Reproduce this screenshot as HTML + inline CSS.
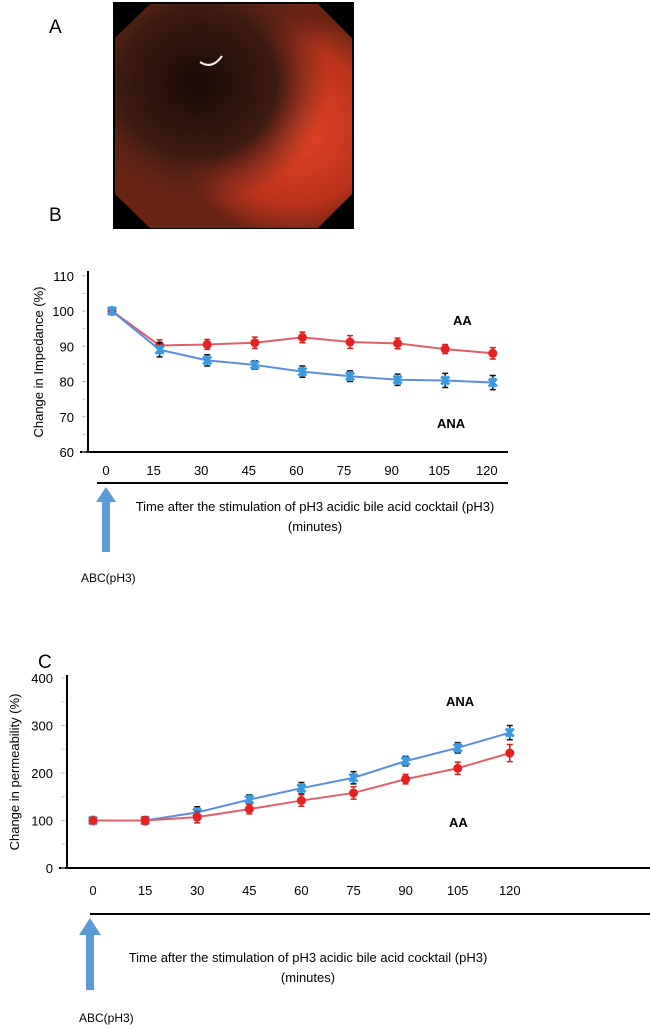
<!DOCTYPE html>
<html><head><meta charset="utf-8"><style>
body{margin:0;background:#fff;}
svg{display:block;font-family:"Liberation Sans",sans-serif;}
</style></head><body>
<svg id="fig" width="650" height="1029" viewBox="0 0 650 1029">
<defs>
<radialGradient id="g1" cx="0.75" cy="0.55" r="0.5"><stop offset="0" stop-color="#e8452a"/><stop offset="0.7" stop-color="#b8321c"/><stop offset="1" stop-color="#6a2414"/></radialGradient>
<radialGradient id="g2" cx="0.35" cy="0.35" r="0.55"><stop offset="0" stop-color="#1a0a06"/><stop offset="0.6" stop-color="#3c1a10"/><stop offset="1" stop-color="#5a2a1a" stop-opacity="0"/></radialGradient>
</defs>
<text x="49" y="33" font-size="19">A</text>
<g>
<rect x="113" y="2" width="241" height="227" fill="#000"/>
<polygon points="150,4 318,4 352,38 352,194 318,228 150,228 115,194 115,38" fill="url(#g1)"/>
<polygon points="150,4 318,4 352,38 352,194 318,228 150,228 115,194 115,38" fill="url(#g2)"/>
<path d="M200,62 Q212,70 222,56" stroke="#eee" stroke-width="2" fill="none"/>
</g>
<text x="49" y="221" font-size="19">B</text>
<text x="38" y="668" font-size="19">C</text>
<g id="chartB"></g>
<g id="chartC"></g>
</svg>
<script>
const categories = [0,15,30,45,60,75,90,105,120];
const impAA = [100,90.2,90.5,91,92.5,91.2,90.8,89.2,88];
const impAAerr = [0.5,1.6,1.4,1.6,1.5,1.8,1.5,1.3,1.6];
const impANA = [100,89,86,84.7,82.8,81.5,80.5,80.3,79.7];
const impANAerr = [0.5,2,1.6,1.2,1.6,1.5,1.6,2,2];
const impTicks = [60,70,80,90,100,110];
const permAA = [100,100,107,124,142,158,187,210,242];
const permAAerr = [4,8,12,10,12,13,10,13,18];
const permANA = [100,100,117,144,168,190,225,253,285];
const permANAerr = [4,8,12,10,12,13,10,11,15];
const permTicks = [0,100,200,300,400];
const NS='http://www.w3.org/2000/svg';
function mk(p,t,a,txt){const e=document.createElementNS(NS,t);for(const k in a)e.setAttribute(k,a[k]);if(txt!==undefined)e.textContent=txt;p.appendChild(e);return e;}
function draw(g,cfg){
  const xs=i=>cfg.x0+i*cfg.dx;
  const ys=v=>cfg.yBase-(v-cfg.yMin)*cfg.ppu;
  const yAx=mk(g,'line',{x1:cfg.ax,y1:cfg.axTop,x2:cfg.ax,y2:cfg.yBase,stroke:'#000','stroke-width':2});
  
  const xAx=mk(g,'line',{x1:cfg.ax-8,y1:cfg.yBase,x2:cfg.xEnd,y2:cfg.yBase,stroke:'#000','stroke-width':2});
  
  cfg.ticks.forEach((t,i)=>{
    const y=ys(t);
    const tl=mk(g,'text',{x:cfg.ax-14,y:y+5,'font-size':13,'text-anchor':'end'},t);
    
    mk(g,'line',{x1:cfg.ax-6,y1:y,x2:cfg.ax-2,y2:y,stroke:'#bbb'});
    if(i<cfg.ticks.length-1)mk(g,'line',{x1:cfg.ax-6,y1:(y+ys(cfg.ticks[i+1]))/2,x2:cfg.ax-2,y2:(y+ys(cfg.ticks[i+1]))/2,stroke:'#ccc'});
  });
  categories.forEach((c,i)=>{
    const tl=mk(g,'text',{x:xs(i)+cfg.lblOff,y:cfg.lblY,'font-size':13,'text-anchor':'middle'},c);
    
  });
  const series=[[cfg.aa,cfg.aaErr,'#e0606a','#e82020','circle','series-aa'],[cfg.ana,cfg.anaErr,'#5b8ee0','#3a9ae0','star','series-ana']];
  if(cfg.anaTop) series.reverse();
  series.forEach(([vals,err,lc,mc,shape,name])=>{
    const pl=mk(g,'polyline',{points:vals.map((v,i)=>xs(i)+','+ys(v)).join(' '),fill:'none',stroke:lc,'stroke-width':2});
    
    vals.forEach((v,i)=>{
      const x=xs(i),y=ys(v),e=err[i]*cfg.ppu;
      const ec=shape==='circle'?'#d02020':'#111';
      mk(g,'path',{d:`M${x},${y-e}V${y+e}M${x-3},${y-e}H${x+3}M${x-3},${y+e}H${x+3}`,stroke:ec,'stroke-width':1.5,fill:'none'});
      let m;
      if(shape==='circle')m=mk(g,'circle',{cx:x,cy:y,r:4.5,fill:mc});
      else m=mk(g,'path',{d:`M${x-4},${y-4}L${x+4},${y+4}M${x+4},${y-4}L${x-4},${y+4}M${x},${y-5}V${y+5}`,stroke:mc,'stroke-width':3});
      
    });
  });
}
draw(document.getElementById('chartB'),{x0:112,dx:47.6,ax:88,axTop:271,xEnd:508,yBase:452,yMin:60,ppu:3.525,ticks:impTicks,lblY:475,lblOff:-6,aa:impAA,aaErr:impAAerr,ana:impANA,anaErr:impANAerr});
draw(document.getElementById('chartC'),{x0:93,dx:52.1,ax:67,axTop:675,xEnd:650,yBase:868,yMin:0,ppu:0.475,ticks:permTicks,lblY:895,lblOff:0,aa:permAA,aaErr:permAAerr,ana:permANA,anaErr:permANAerr,anaTop:true});
</script>
<svg width="650" height="1029" viewBox="0 0 650 1029" style="position:absolute;left:0;top:0;font-family:'Liberation Sans',sans-serif">
<text x="0" y="0" transform="translate(43,362) rotate(-90)" font-size="13" text-anchor="middle">Change in Impedance (%)</text>
<text x="453" y="325" font-size="13" font-weight="bold">AA</text>
<text x="437" y="428" font-size="13" font-weight="bold">ANA</text>
<line x1="97" y1="483" x2="508" y2="483" stroke="#000" stroke-width="2"/>
<polygon points="96,502 106,487 116,502 110,502 110,552 102,552 102,502" fill="#5b9bd5"/>
<text x="315" y="511" font-size="13" text-anchor="middle">Time after the stimulation of pH3 acidic bile acid cocktail (pH3)</text>
<text x="315" y="531" font-size="13" text-anchor="middle">(minutes)</text>
<text x="81" y="582" font-size="12">ABC(pH3)</text>
<text x="0" y="0" transform="translate(19,772) rotate(-90)" font-size="13" text-anchor="middle">Change in permeability (%)</text>
<text x="446" y="706" font-size="13" font-weight="bold">ANA</text>
<text x="449" y="827" font-size="13" font-weight="bold">AA</text>
<line x1="90" y1="914" x2="650" y2="914" stroke="#000" stroke-width="2"/>
<polygon points="79,935 90,918 101,935 94,935 94,990 86,990 86,935" fill="#5b9bd5"/>
<text x="308" y="962" font-size="13" text-anchor="middle">Time after the stimulation of pH3 acidic bile acid cocktail (pH3)</text>
<text x="308" y="982" font-size="13" text-anchor="middle">(minutes)</text>
<text x="79" y="1022" font-size="12">ABC(pH3)</text>
</svg>
</body></html>
